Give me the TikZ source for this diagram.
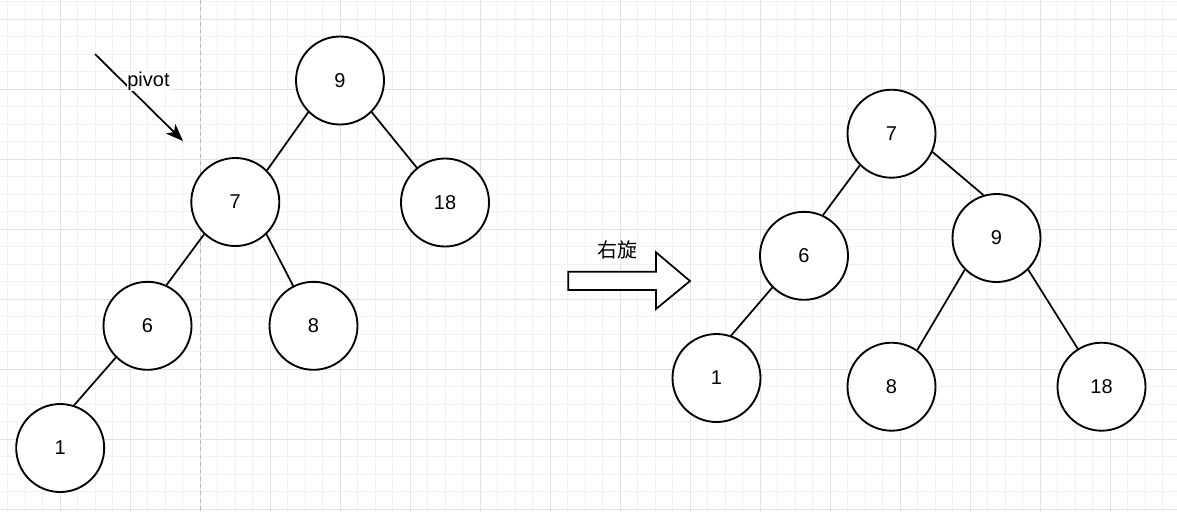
\documentclass[tikz,border=0pt]{standalone}
\usepackage{fontspec}
\setmainfont{Liberation Sans}
\newfontfamily\cjk{Noto Sans CJK SC}
\usetikzlibrary{arrows.meta}

\definecolor{gridminor}{HTML}{F2F2F2}
\definecolor{gridmajor}{HTML}{E2E2E2}
\definecolor{guidegray}{HTML}{B8B8B8}

\tikzset{
    treenode/.style={draw, circle, line width=1.4pt, fill=white, minimum size=66pt, inner sep=0pt, font=\fontsize{15}{18}\selectfont},
    treeedge/.style={line width=1.3pt},
    pivotarrow/.style={line width=1.3pt, -{Stealth[length=13pt, width=10pt, inset=3.5pt]}},
    blockarrow/.style={draw, line width=1.3pt, fill=white, line join=miter}
}

\begin{document}
\begin{tikzpicture}[x=0.75pt, y=-0.75pt]
    \useasboundingbox (0,0) rectangle (1177,512);
    \fill[white] (0,0) rectangle (1177,512);
    % Grid
    \foreach \k in {1,...,67} \draw[gridminor, line width=0.75pt] ({-10+17.5*\k},0) -- ({-10+17.5*\k},512);
    \foreach \k in {-1,...,28} \draw[gridminor, line width=0.75pt] (0,{19.3+17.5*\k}) -- (1177,{19.3+17.5*\k});
    \foreach \k in {1,...,16} \draw[gridmajor, line width=0.75pt] ({-10+70*\k},0) -- ({-10+70*\k},512);
    \foreach \k in {0,...,7} \draw[gridmajor, line width=0.75pt] (0,{19.3+70*\k}) -- (1177,{19.3+70*\k});
    \draw[guidegray, line width=0.75pt, dash pattern=on 3pt off 2.5pt] (200.3,0) -- (200.3,512);

    % Before rotation
    \node[treenode] (l9) at (340,80.5) {9};
    \node[treenode] (l7) at (235.3,202) {7};
    \node[treenode] (l18) at (445,202.5) {18};
    \node[treenode] (l6) at (147.5,325.8) {6};
    \node[treenode] (l8) at (313.5,325.8) {8};
    \node[treenode] (l1) at (60.2,448) {1};
    \draw[treeedge] (l9.225) -- (l7.45);
    \draw[treeedge] (l9.315) -- (l18.129);
    \draw[treeedge] (l7.226) -- (l6.65);
    \draw[treeedge] (l7.314) -- (l8.117);
    \draw[treeedge] (l6.225) -- (l1.72);

    % Pivot marker
    \coordinate (pivotfrom) at (95,54);
    \coordinate (pivotto) at (183,141);
    \draw[pivotarrow] (pivotfrom) -- (pivotto);
    \node[fill=white, inner sep=0.5pt, font=\fontsize{15}{17}\selectfont] (pivotlbl) at (148.5,81.5) {pivot};

    % Rotation arrow
    \draw[blockarrow] (568.3,271.7) -- (656,271.7) -- (656,252.3) -- (690,281) -- (656,309) -- (656,290) -- (568.3,290) -- cycle;
    \node[font=\fontsize{15}{17}\selectfont\cjk] (rotlbl) at (617.3,250) {右旋};

    % After rotation
    \node[treenode] (r7) at (891.5,133.7) {7};
    \node[treenode] (r6) at (804,255.8) {6};
    \node[treenode] (r9) at (996.5,238) {9};
    \node[treenode] (r1) at (716.5,378) {1};
    \node[treenode] (r8) at (891.5,386.7) {8};
    \node[treenode] (r18) at (1101.5,386.7) {18};
    \draw[treeedge] (r7.225) -- (r6.65);
    \draw[treeedge] (r7.336) -- (r9.107);
    \draw[treeedge] (r6.225) -- (r1.71);
    \draw[treeedge] (r9.225) -- (r8.55);
    \draw[treeedge] (r9.315) -- (r18.122);
\end{tikzpicture}
\end{document}
